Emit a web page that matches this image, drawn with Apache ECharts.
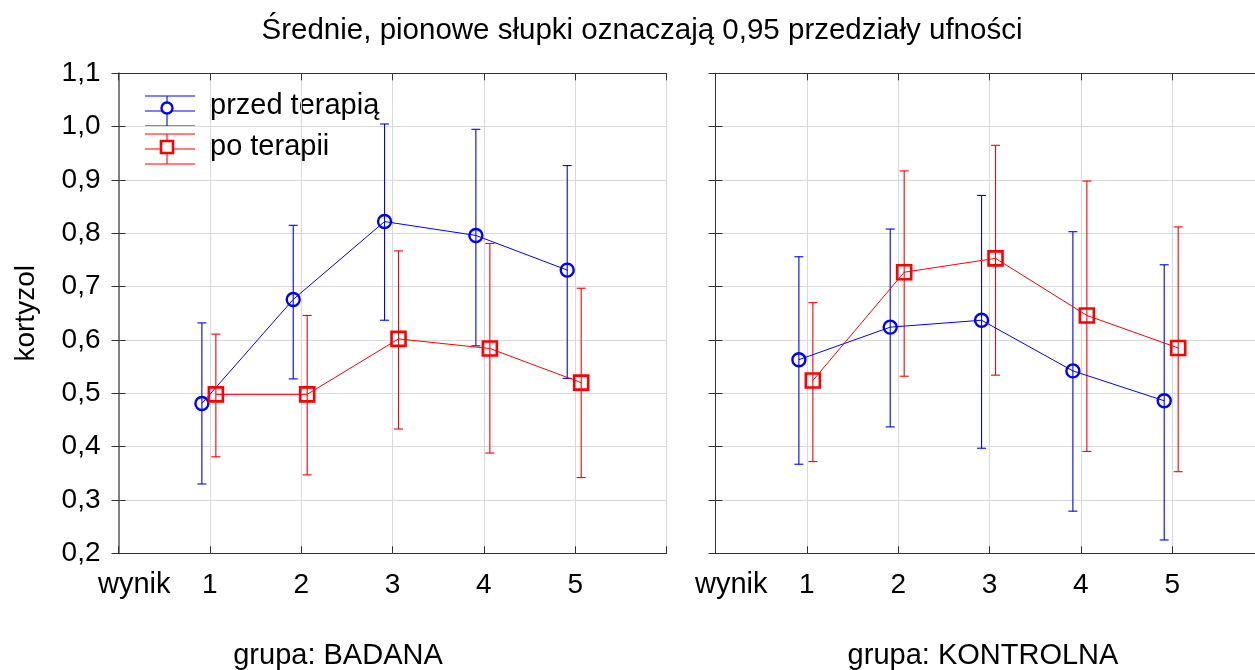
<!DOCTYPE html>
<html>
<head>
<meta charset="utf-8">
<script src="https://cdn.jsdelivr.net/npm/echarts@6/dist/echarts.min.js"></script>
<style>
  html, body { margin: 0; padding: 0; background: #fff; }
  #chart { width: 1255px; height: 670px; }
</style>
</head>
<body>
<div id="chart"></div>
<script>
// wynik (x categories)
const wynik = [1, 2, 3, 4, 5]

// grupa: BADANA
const badanaPrzedMean = [0.481, 0.676, 0.822, 0.796, 0.731]
const badanaPrzedLow = [0.330, 0.527, 0.637, 0.589, 0.528]
const badanaPrzedHigh = [0.632, 0.815, 1.005, 0.995, 0.927]
const badanaPoMean = [0.498, 0.498, 0.602, 0.584, 0.520]
const badanaPoLow = [0.381, 0.347, 0.433, 0.388, 0.342]
const badanaPoHigh = [0.611, 0.646, 0.767, 0.781, 0.697]

// grupa: KONTROLNA
const kontrolnaPrzedMean = [0.563, 0.624, 0.637, 0.542, 0.486]
const kontrolnaPrzedLow = [0.367, 0.437, 0.397, 0.279, 0.225]
const kontrolnaPrzedHigh = [0.756, 0.808, 0.871, 0.803, 0.741]
const kontrolnaPoMean = [0.524, 0.727, 0.753, 0.646, 0.585]
const kontrolnaPoLow = [0.372, 0.532, 0.534, 0.391, 0.353]
const kontrolnaPoHigh = [0.670, 0.917, 0.965, 0.898, 0.812]

const BLUE = '#0000ff'
const RED = '#ff0000'
const FONT = 'Liberation Sans'
// small horizontal dodge so the two series do not overlap
const SHIFT_PRZED = -0.087
const SHIFT_PO = 0.066

const chart = echarts.init(document.getElementById('chart'))

function meanData(means, shift) {
  return means.map((v, i) => [wynik[i] + shift, v])
}
function barData(low, high, shift) {
  return low.map((v, i) => [wynik[i] + shift, v, high[i]])
}

function errorBars(color) {
  return function (params, api) {
    const top = api.coord([api.value(0), api.value(2)])
    const bot = api.coord([api.value(0), api.value(1)])
    const w = 4.5
    const style = { stroke: color, lineWidth: 1.1 }
    return {
      type: 'group',
      children: [
        { type: 'line', shape: { x1: top[0], y1: top[1], x2: bot[0], y2: bot[1] }, style },
        { type: 'line', shape: { x1: top[0] - w, y1: top[1], x2: top[0] + w, y2: top[1] }, style },
        { type: 'line', shape: { x1: bot[0] - w, y1: bot[1], x2: bot[0] + w, y2: bot[1] }, style },
      ],
    }
  }
}

function xAxisFor(gridIndex, position) {
  const bottom = position === 'bottom'
  return {
    type: 'value',
    gridIndex,
    position,
    min: 0,
    max: 6,
    interval: 1,
    axisLine: { show: true, lineStyle: { color: '#333', width: 1 } },
    axisTick: { show: true, inside: true, length: 7, lineStyle: { color: '#333' } },
    axisLabel: {
      show: bottom,
      margin: 18,
      color: '#000',
      fontFamily: FONT,
      fontSize: 28,
      formatter: v => (wynik.includes(v) ? String(v) : ''),
    },
    splitLine: { show: bottom, lineStyle: { color: '#d9d9d9', width: 1 } },
  }
}

function yAxisFor(gridIndex, position, showLabels, lineColor, lineWidth) {
  return {
    type: 'value',
    gridIndex,
    position,
    min: 0.2,
    max: 1.1,
    interval: 0.1,
    name: showLabels ? 'kortyzol' : '',
    nameLocation: 'middle',
    nameGap: 78,
    nameTextStyle: { color: '#000', fontFamily: FONT, fontSize: 28 },
    axisLine: { show: true, lineStyle: { color: lineColor, width: lineWidth } },
    axisTick: { show: true, inside: true, length: 7, lineStyle: { color: '#333' } },
    axisLabel: {
      show: showLabels,
      margin: 18,
      color: '#000',
      fontFamily: FONT,
      fontSize: 28,
      formatter: v => v.toFixed(1).replace('.', ','),
    },
    splitLine: { show: position === 'left', lineStyle: { color: '#d9d9d9', width: 1 } },
  }
}

function panelSeries(idx, przedMean, przedLow, przedHigh, poMean, poLow, poHigh) {
  return [
    {
      type: 'custom',
      xAxisIndex: idx * 2,
      yAxisIndex: idx * 2,
      renderItem: errorBars(BLUE),
      encode: { x: 0, y: [1, 2] },
      data: barData(przedLow, przedHigh, SHIFT_PRZED),
      silent: true,
      z: 3,
    },
    {
      type: 'custom',
      xAxisIndex: idx * 2,
      yAxisIndex: idx * 2,
      renderItem: errorBars(RED),
      encode: { x: 0, y: [1, 2] },
      data: barData(poLow, poHigh, SHIFT_PO),
      silent: true,
      z: 3,
    },
    {
      name: 'przed terapią',
      type: 'line',
      xAxisIndex: idx * 2,
      yAxisIndex: idx * 2,
      data: meanData(przedMean, SHIFT_PRZED),
      symbol: 'circle',
      symbolSize: 13,
      lineStyle: { color: BLUE, width: 1 },
      itemStyle: { color: 'rgba(0,0,0,0)', borderColor: BLUE, borderWidth: 2.4 },
      z: 4,
    },
    {
      name: 'po terapii',
      type: 'line',
      xAxisIndex: idx * 2,
      yAxisIndex: idx * 2,
      data: meanData(poMean, SHIFT_PO),
      symbol: 'rect',
      symbolSize: 14,
      lineStyle: { color: RED, width: 1 },
      itemStyle: { color: 'rgba(0,0,0,0)', borderColor: RED, borderWidth: 2.6 },
      z: 4,
    },
  ]
}

const textStyle = { fill: '#000', fontFamily: FONT, fontSize: 29 }

chart.setOption({
  animation: false,
  title: {
    text: 'Średnie, pionowe słupki oznaczają 0,95 przedziały ufności',
    left: 637,
    top: 11,
    textAlign: 'center',
    textStyle: { color: '#000', fontFamily: FONT, fontSize: 29.5, fontWeight: 'normal' },
  },
  grid: [
    { left: 118.5, top: 73.3, width: 548, height: 480, outerBoundsMode: 'none' },
    { left: 715.5, top: 73.3, width: 548, height: 480, outerBoundsMode: 'none' },
  ],
  xAxis: [
    xAxisFor(0, 'bottom'),
    xAxisFor(0, 'top'),
    xAxisFor(1, 'bottom'),
    xAxisFor(1, 'top'),
  ],
  yAxis: [
    yAxisFor(0, 'left', true, '#333', 1),
    yAxisFor(0, 'right', false, '#808080', 2),
    yAxisFor(1, 'left', false, '#222', 1),
    yAxisFor(1, 'right', false, '#333', 1),
  ],
  series: [
    ...panelSeries(0, badanaPrzedMean, badanaPrzedLow, badanaPrzedHigh, badanaPoMean, badanaPoLow, badanaPoHigh),
    ...panelSeries(1, kontrolnaPrzedMean, kontrolnaPrzedLow, kontrolnaPrzedHigh, kontrolnaPoMean, kontrolnaPoLow, kontrolnaPoHigh),
  ],
  graphic: [
    // legend
    { type: 'line', shape: { x1: 167, y1: 96, x2: 167, y2: 126 }, style: { stroke: BLUE, lineWidth: 1.1 } },
    { type: 'line', shape: { x1: 145, y1: 96, x2: 195, y2: 96 }, style: { stroke: BLUE, lineWidth: 1.1 } },
    { type: 'line', shape: { x1: 145, y1: 111, x2: 195, y2: 111 }, style: { stroke: BLUE, lineWidth: 1.1 } },
    { type: 'line', shape: { x1: 145, y1: 126, x2: 195, y2: 126 }, style: { stroke: BLUE, lineWidth: 1.1 } },
    { type: 'circle', shape: { cx: 167, cy: 108, r: 5.5 }, style: { fill: '#fff', stroke: BLUE, lineWidth: 2.4 } },
    { type: 'line', shape: { x1: 167, y1: 134, x2: 167, y2: 164 }, style: { stroke: RED, lineWidth: 1.1 } },
    { type: 'line', shape: { x1: 145, y1: 134, x2: 195, y2: 134 }, style: { stroke: RED, lineWidth: 1.1 } },
    { type: 'line', shape: { x1: 145, y1: 149, x2: 195, y2: 149 }, style: { stroke: RED, lineWidth: 1.1 } },
    { type: 'line', shape: { x1: 145, y1: 164, x2: 195, y2: 164 }, style: { stroke: RED, lineWidth: 1.1 } },
    { type: 'rect', shape: { x: 161, y: 141, width: 12, height: 12 }, style: { fill: '#fff', stroke: RED, lineWidth: 2.6 } },
    { type: 'text', left: 210, top: 91, style: { ...textStyle, text: 'przed terapią' } },
    { type: 'text', left: 210, top: 132, style: { ...textStyle, text: 'po terapii' } },
    // x axis captions
    { type: 'text', left: 98, top: 570, style: { ...textStyle, text: 'wynik' } },
    { type: 'text', left: 695, top: 570, style: { ...textStyle, text: 'wynik' } },
    { type: 'text', x: 338, y: 656, style: { ...textStyle, text: 'grupa: BADANA', textAlign: 'center', textVerticalAlign: 'middle' } },
    { type: 'text', x: 983, y: 656, style: { ...textStyle, text: 'grupa: KONTROLNA', textAlign: 'center', textVerticalAlign: 'middle' } },
  ],
})
</script>
</body>
</html>
